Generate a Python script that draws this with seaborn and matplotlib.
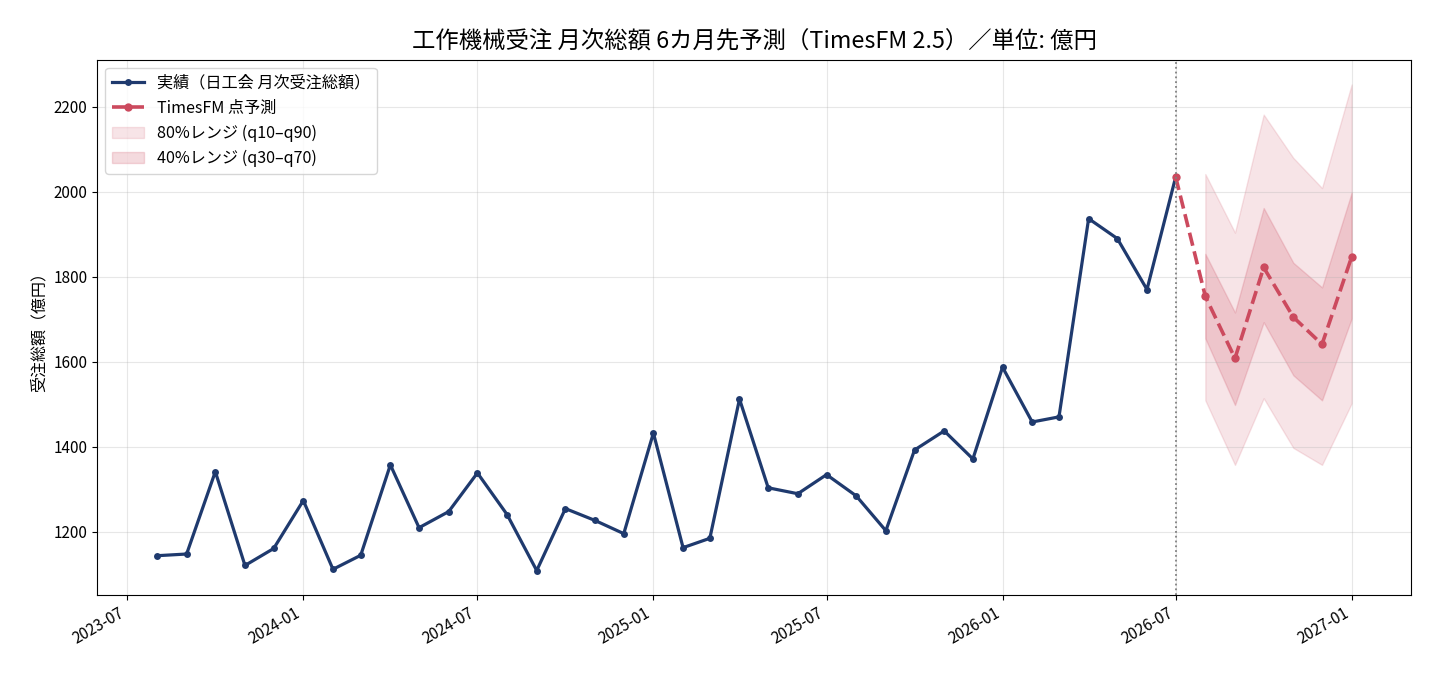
import numpy as np
import pandas as pd
import matplotlib
matplotlib.use("Agg")
import matplotlib.pyplot as plt
import matplotlib.dates as mdates
import seaborn as sns

plt.rcParams['font.family'] = ['Noto Sans CJK JP', 'DejaVu Sans']
plt.rcParams['axes.unicode_minus'] = False

actual_months = pd.date_range("2023-08-01", "2026-07-01", freq="MS")
actual_values = [1143, 1147, 1341, 1120, 1160, 1273, 1111, 1144, 1357, 1209,
                 1247, 1338, 1240, 1108, 1254, 1226, 1195, 1432, 1162, 1184,
                 1512, 1303, 1289, 1334, 1284, 1202, 1392, 1437, 1371, 1587,
                 1458, 1470, 1937, 1890, 1770, 2035]

fc_months = pd.date_range("2026-08-01", "2027-01-01", freq="MS")
fc_point = [1754, 1608, 1822, 1705, 1641, 1847]
q10 = [1509, 1357, 1514, 1397, 1357, 1502]
q90 = [2042, 1904, 2182, 2080, 2009, 2253]
q30 = [1655, 1498, 1693, 1568, 1509, 1702]
q70 = [1854, 1716, 1962, 1833, 1775, 1998]

navy = "#1f3a6e"
red = "#cc4a5e"

df_act = pd.DataFrame({"date": actual_months, "value": actual_values})
df_fc = pd.DataFrame({"date": [actual_months[-1]] + list(fc_months),
                      "value": [actual_values[-1]] + fc_point})

fig, ax = plt.subplots(figsize=(14.3, 6.76), dpi=100)

sns.lineplot(data=df_act, x="date", y="value", ax=ax, color=navy, lw=2.3,
             marker="o", markersize=5, markeredgewidth=0,
             label="実績（日工会 月次受注総額）")
sns.lineplot(data=df_fc, x="date", y="value", ax=ax, color=red, lw=2.6,
             linestyle="--", marker="o", markersize=6, markeredgewidth=0,
             label="TimesFM 点予測")
ax.fill_between(fc_months, q10, q90, color=red, alpha=0.15, label="80%レンジ (q10–q90)")
ax.fill_between(fc_months, q30, q70, color=red, alpha=0.2, label="40%レンジ (q30–q70)")
ax.axvline(actual_months[-1], color="gray", ls=":", lw=1.3)

ax.xaxis.set_major_locator(mdates.MonthLocator(bymonth=[1, 7]))
ax.xaxis.set_major_formatter(mdates.DateFormatter("%Y-%m"))
ax.grid(True, alpha=0.3)
ax.set_xlabel("")
ax.set_ylabel("受注総額（億円）", fontsize=11.5)
ax.set_title("工作機械受注 月次総額 6カ月先予測（TimesFM 2.5）／単位: 億円", fontsize=16.8, pad=9)
ax.tick_params(labelsize=11)
for lab in ax.get_xticklabels():
    lab.set_rotation(30)
    lab.set_ha("right")
ax.legend(loc="upper left", fontsize=11.6)

fig.subplots_adjust(left=0.068, right=0.987, top=0.911, bottom=0.12)
fig.savefig("out.png", dpi=100)
